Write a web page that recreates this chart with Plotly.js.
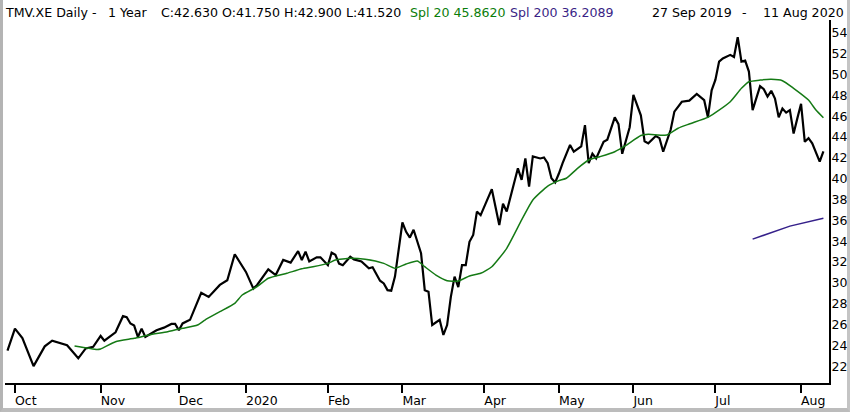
<!DOCTYPE html>
<html>
<head>
<meta charset="utf-8">
<script src="https://cdn.plot.ly/plotly-3.0.1.min.js"></script>
<style>
html,body{margin:0;padding:0;background:#fff;}
#wrap{position:relative;width:850px;height:412px;overflow:hidden;}
#chart{position:absolute;left:0;top:0;width:850px;height:412px;}
#frame{position:absolute;left:0;top:0;width:850px;height:412px;box-sizing:border-box;
  border-left:3px solid #b4b4b4;border-right:3px solid #c4c4c4;border-bottom:4px solid #bcbcbc;pointer-events:none;}
</style>
</head>
<body>
<div id="wrap"><div id="chart"></div><div id="frame"></div></div>
<script>
// ---- data ----
const closeDates = ["2019-09-27","2019-10-01","2019-10-03","2019-10-08","2019-10-11","2019-10-15","2019-10-21","2019-10-24","2019-10-28","2019-10-30",
"2019-11-01","2019-11-04","2019-11-07","2019-11-11","2019-11-12","2019-11-13","2019-11-14","2019-11-15","2019-11-18","2019-11-19","2019-11-22","2019-11-26","2019-11-28","2019-11-29",
"2019-12-02","2019-12-03","2019-12-05","2019-12-10","2019-12-12","2019-12-17","2019-12-19","2019-12-23",
"2020-01-02","2020-01-06","2020-01-07","2020-01-10","2020-01-14","2020-01-16","2020-01-20","2020-01-22","2020-01-23","2020-01-24","2020-01-27","2020-01-29","2020-01-30",
"2020-02-03","2020-02-04","2020-02-05","2020-02-06","2020-02-07","2020-02-11","2020-02-12","2020-02-14","2020-02-18","2020-02-19","2020-02-20","2020-02-21","2020-02-24","2020-02-25","2020-02-26","2020-02-27",
"2020-03-02","2020-03-03","2020-03-04","2020-03-05","2020-03-09","2020-03-10","2020-03-11","2020-03-12","2020-03-16","2020-03-17","2020-03-18","2020-03-19","2020-03-20","2020-03-23","2020-03-24","2020-03-25","2020-03-26","2020-03-27","2020-03-30","2020-03-31",
"2020-04-03","2020-04-07","2020-04-08","2020-04-09","2020-04-16","2020-04-17","2020-04-20","2020-04-21","2020-04-22","2020-04-24","2020-04-27","2020-04-28","2020-04-29","2020-04-30",
"2020-05-04","2020-05-05","2020-05-07","2020-05-08","2020-05-12","2020-05-13","2020-05-14","2020-05-15","2020-05-18","2020-05-20","2020-05-21","2020-05-25","2020-05-26","2020-05-27","2020-05-29",
"2020-06-01","2020-06-03","2020-06-04","2020-06-05","2020-06-09","2020-06-10","2020-06-11","2020-06-15","2020-06-16","2020-06-18","2020-06-22","2020-06-24","2020-06-26","2020-06-29","2020-06-30",
"2020-07-01","2020-07-02","2020-07-03","2020-07-07","2020-07-08","2020-07-09","2020-07-10","2020-07-13","2020-07-14","2020-07-15","2020-07-17","2020-07-20","2020-07-21","2020-07-22","2020-07-23","2020-07-24","2020-07-27","2020-07-28","2020-07-29","2020-07-30","2020-07-31",
"2020-08-03","2020-08-04","2020-08-05","2020-08-06","2020-08-10","2020-08-11"];
const closeValues = [23.5,25.6,24.7,22.0,23.9,24.45,24.0,22.75,23.7,23.85,
24.9,24.45,25.25,26.8,26.7,26.1,25.9,24.8,25.6,24.8,25.45,25.7,26.05,26.05,
25.45,26.1,26.45,29.05,28.65,29.8,30.25,32.75,
31.05,29.45,29.8,31.3,30.75,32.2,31.95,33.05,32.2,33.0,32.05,32.45,32.45,
31.7,32.9,32.7,31.85,31.7,32.5,32.25,32.05,31.4,31.5,30.9,30.2,29.95,29.3,29.25,30.6,
35.8,34.9,34.35,35.1,32.85,29.3,29.15,25.95,26.45,25.0,25.95,28.65,30.6,29.6,31.7,31.7,33.95,34.6,36.85,36.5,
39.0,35.55,37.6,36.85,41.0,39.9,41.95,39.25,42.15,41.95,42.05,41.5,40.05,39.65,
40.5,41.5,43.25,42.6,43.1,45.15,41.5,42.4,41.95,43.55,43.75,45.9,45.25,42.4,44.95,
48.05,46.1,43.6,43.4,44.1,43.9,42.6,44.7,46.45,47.4,47.5,48.15,47.55,45.9,48.5,
49.5,51.25,51.55,51.9,51.7,53.6,51.25,51.35,50.3,46.6,48.9,48.6,47.9,48.45,47.7,45.9,46.75,46.35,46.6,44.35,45.8,
47.2,43.55,43.9,43.4,41.65,42.63];

const spl20Dates = ["2019-10-23","2019-10-31","2019-11-01","2019-11-07","2019-11-14","2019-11-20","2019-11-27","2019-12-03","2019-12-09","2019-12-11","2019-12-17","2019-12-23","2019-12-30",
"2020-01-07","2020-01-10","2020-01-17","2020-01-23","2020-01-28","2020-02-03","2020-02-05","2020-02-11","2020-02-17","2020-02-24","2020-02-27",
"2020-03-03","2020-03-06","2020-03-10","2020-03-13","2020-03-18","2020-03-23","2020-03-26","2020-03-31","2020-04-03","2020-04-09","2020-04-17","2020-04-22","2020-04-28",
"2020-05-04","2020-05-06","2020-05-11","2020-05-14","2020-05-19","2020-05-25","2020-05-28","2020-06-03","2020-06-05","2020-06-12","2020-06-17","2020-06-22","2020-06-29",
"2020-07-01","2020-07-07","2020-07-10","2020-07-14","2020-07-17","2020-07-22","2020-07-27","2020-07-30","2020-08-05","2020-08-07","2020-08-11"];
const spl20Values = [23.93,23.6,23.65,24.35,24.67,24.99,25.31,25.63,25.95,26.43,27.23,28.03,28.83,
29.63,30.44,30.92,31.35,31.55,31.87,32.19,32.36,32.26,31.87,31.4,
31.81,32.1,31.55,30.75,30.21,30.18,30.66,30.92,31.55,33.32,36.04,37.96,39.3,
39.82,40.05,41.0,41.8,42.12,42.6,43.2,44.15,44.27,44.2,44.85,45.26,45.9,
46.35,47.4,48.69,49.32,49.48,49.55,49.42,48.69,47.56,46.6,45.86];

const spl200Dates = ["2020-07-15","2020-07-29","2020-08-11"];
const spl200Values = [34.2,35.45,36.21];

const monthTickDates = ["2019-10-01","2019-11-01","2019-12-02","2020-01-02","2020-02-03","2020-03-02","2020-04-01","2020-05-04","2020-06-01","2020-07-01","2020-08-03"];
const monthTickLabels = ["Oct","Nov","Dec","2020","Feb","Mar","Apr","May","Jun","Jul","Aug"];
const priceTicks = [22,24,26,28,30,32,34,36,38,40,42,44,46,48,50,52,54];
const holidays = ["2019-12-24","2019-12-25","2019-12-26","2019-12-31","2020-01-01","2020-04-10","2020-04-13","2020-05-01"];

const headerParts = [
  {text:"TMV.XE Daily -", px:4, color:"#000"},
  {text:"1 Year", px:107, color:"#000"},
  {text:"C:42.630 O:41.750 H:42.900 L:41.520", px:160, color:"#000"},
  {text:"Spl 20 45.8620", px:409, color:"#0a7d0a"},
  {text:"Spl 200 36.2089", px:509, color:"#3a1f86"},
  {text:"27 Sep 2019", px:651, color:"#000"},
  {text:"-", px:741, color:"#000"},
  {text:"11 Aug 2020", px:762, color:"#000"}
];

// ---- layout geometry ----
const W = 850, H = 412;
const M = {l:5, r:21, t:20, b:29};
const plotW = W - M.l - M.r, plotH = H - M.t - M.b;
const FONT = "DejaVu Sans, Verdana, sans-serif";

const traces = [
  {x: closeDates, y: closeValues, type:"scatter", mode:"lines", line:{color:"#000", width:2.2}, hoverinfo:"skip"},
  {x: spl20Dates, y: spl20Values, type:"scatter", mode:"lines", line:{color:"#157a15", width:1.5, shape:"spline", smoothing:0.5}, hoverinfo:"skip"},
  {x: spl200Dates, y: spl200Values, type:"scatter", mode:"lines", line:{color:"#35208a", width:1.5}, hoverinfo:"skip"}
];

const annotations = headerParts.map(p => ({
  text: p.text, showarrow:false, xref:"paper", yref:"paper",
  x: (p.px - M.l) / plotW, y: (H - M.b - 12) / plotH,
  xanchor:"left", yanchor:"middle", borderpad:0,
  font:{family:FONT, size:12.6, color:p.color}
}));

const layout = {
  width: W, height: H,
  margin: M,
  paper_bgcolor:"#fff", plot_bgcolor:"#fff",
  showlegend:false,
  font:{family:FONT, size:12, color:"#000"},
  xaxis:{
    type:"date",
    range:["2019-09-26 08:00","2020-08-12 12:00"],
    rangebreaks:[{bounds:["sat","mon"]},{values:holidays}],
    tickmode:"array", tickvals: monthTickDates, ticktext: monthTickLabels,
    ticks:"outside", ticklen:8, tickwidth:2, tickcolor:"#000",
    ticklabelposition:"outside right", ticklabelstandoff:5, ticklabelshift:-2,
    showline:true, linecolor:"#000", linewidth:2,
    showgrid:false, zeroline:false, fixedrange:true,
    tickfont:{family:FONT, size:12.5, color:"#000"}
  },
  yaxis:{
    side:"right",
    range:[20.38, 55.25],
    tickmode:"array", tickvals: priceTicks, ticktext: priceTicks.map(String),
    ticks:"", showline:true, linecolor:"#000", linewidth:2,
    ticklabelstandoff:-2,
    showgrid:false, zeroline:false, fixedrange:true,
    tickfont:{family:FONT, size:12.5, color:"#000"}
  },
  annotations: annotations
};

Plotly.newPlot("chart", traces, layout, {staticPlot:true, displayModeBar:false});
</script>
</body>
</html>
